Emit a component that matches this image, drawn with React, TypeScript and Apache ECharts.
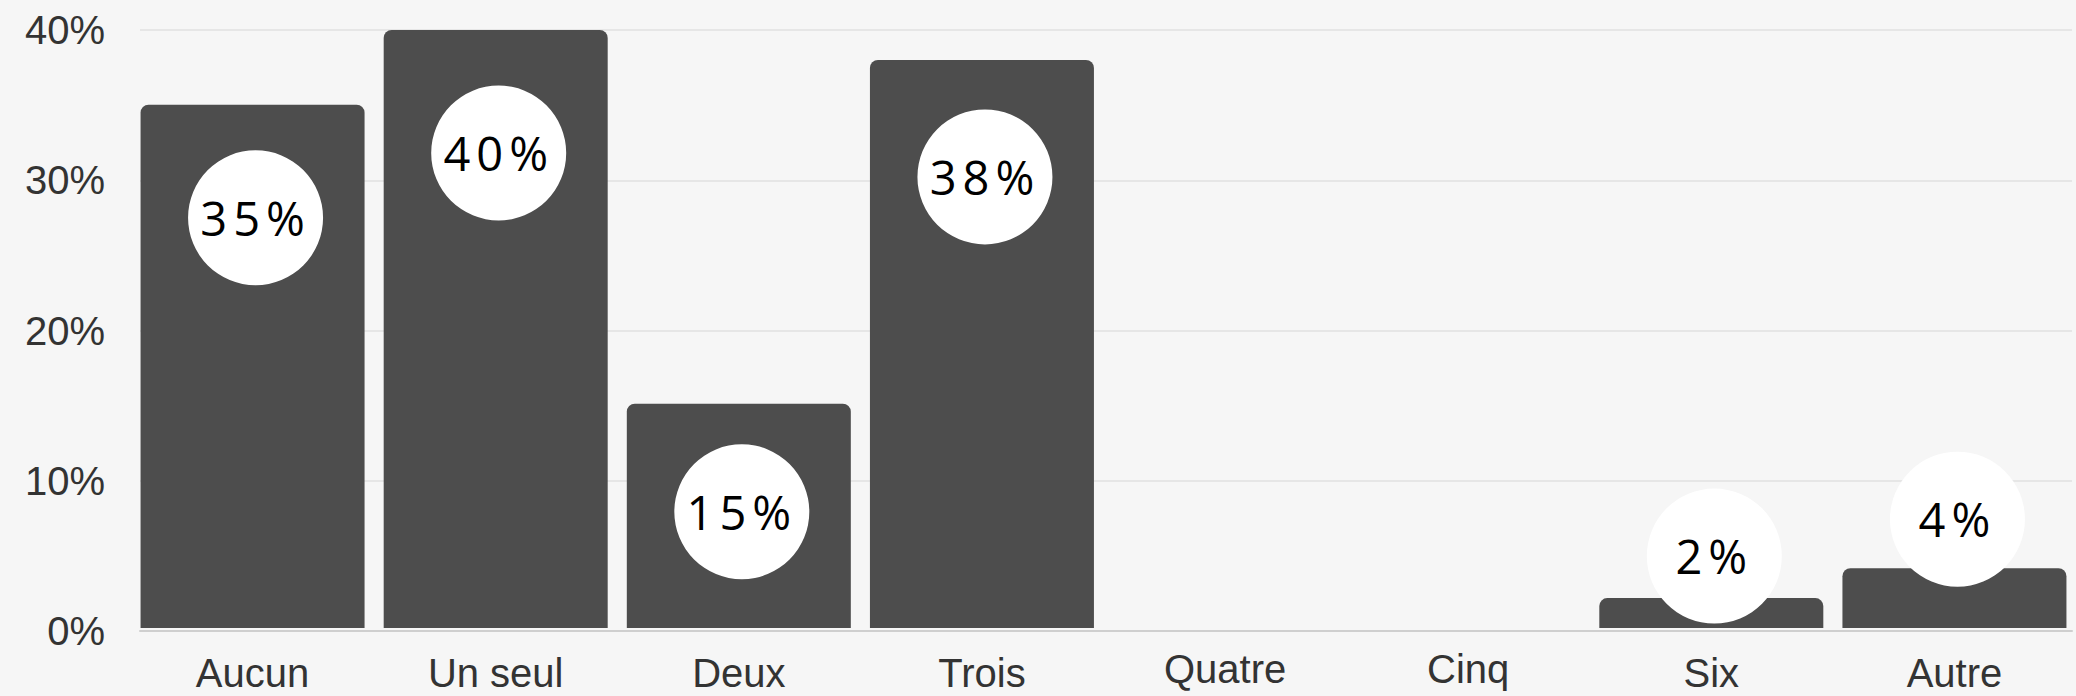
import React, { useEffect, useRef } from "react";
import * as echarts from "echarts";

const categories = ["Aucun", "Un seul", "Deux", "Trois", "Quatre", "Cinq", "Six", "Autre"];
const values = [35, 40, 15, 38, 0, 0, 2, 4];
const yTicks = { min: 0, max: 40, interval: 10 };
// vertical offset (px) of the label circle centre from the bar top
const labelOffsets = [113, 123, 108, 117, 0, 0, -42, -49];
// categories whose label sits slightly higher in the reference
const raisedLabels = ["Quatre", "Cinq"];

export default function App() {
  const ref = useRef<HTMLDivElement>(null);
  useEffect(() => {
    if (!ref.current) return;
    const chart = echarts.init(ref.current, undefined, { renderer: "svg" });
    const labelFont = "'Liberation Sans', Arial, sans-serif";
    chart.setOption({
      animation: false,
      backgroundColor: "#f6f6f6",
      grid: [
        { left: 131, top: 30, width: 1951, height: 601 },
        { left: 140, top: 30, width: 1932, height: 601 },
      ],
      xAxis: [
        {
          type: "category",
          gridIndex: 0,
          data: categories.map((c) =>
            raisedLabels.includes(c) ? { value: c, textStyle: { lineHeight: 38 } } : c
          ),
          axisLine: { show: false },
          axisTick: { show: false },
          axisLabel: {
            fontSize: 40,
            lineHeight: 46,
            fontFamily: labelFont,
            color: "#333",
            margin: 22,
            interval: 0,
          },
        },
        {
          type: "category",
          gridIndex: 1,
          data: categories,
          axisLine: { show: true, lineStyle: { color: "#cfcfcf", width: 2 } },
          axisTick: { show: false },
          axisLabel: { show: false },
        },
      ],
      yAxis: [
        {
          type: "value",
          gridIndex: 0,
          ...yTicks,
          show: false,
          splitLine: { show: false },
        },
        {
          type: "value",
          gridIndex: 1,
          ...yTicks,
          axisLine: { show: false },
          axisTick: { show: false },
          splitLine: { show: true, lineStyle: { color: "#e6e6e6", width: 2 } },
          axisLabel: {
            formatter: "{value}%",
            fontSize: 40,
            fontFamily: labelFont,
            color: "#333",
            margin: 35,
          },
        },
      ],
      series: [
        {
          type: "bar",
          xAxisIndex: 0,
          yAxisIndex: 0,
          barWidth: 224,
          itemStyle: { color: "#4d4d4d", borderRadius: [8, 8, 0, 0] },
          data: values.map((v, i) => ({
            value: v,
            label: {
              show: v > 0,
              position: ["50%", labelOffsets[i]],
              offset: [3, 0],
              align: "center",
              verticalAlign: "middle",
              formatter: "{c}%",
              backgroundColor: "#ffffff",
              width: 135,
              height: 135,
              lineHeight: 135,
              borderRadius: 67.5,
              fontFamily: "'Open Sans', 'Noto Sans', sans-serif",
              fontSize: 47,
              color: "#000",
            },
          })),
        },
      ],
    });
    return () => chart.dispose();
  }, []);
  return (
    <>
      <style>{`svg text[style*="Open Sans"] { letter-spacing: 6px; }`}</style>
      <div
        ref={ref}
        style={{ position: "fixed", left: 0, top: 0, width: 2076, height: 696 }}
      />
    </>
  );
}
